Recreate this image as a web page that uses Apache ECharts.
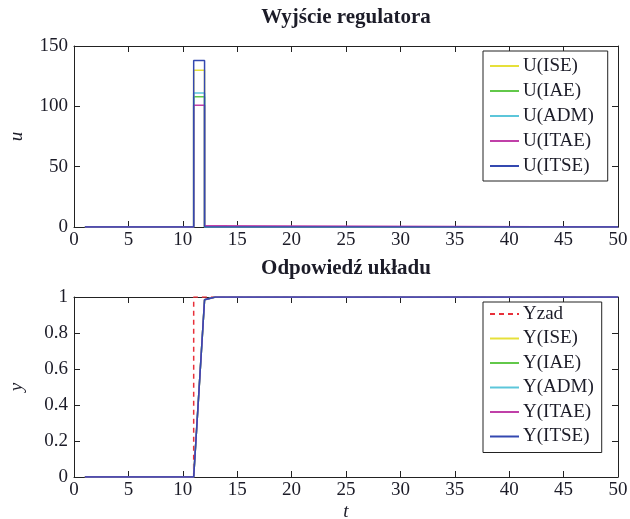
<!DOCTYPE html>
<html><head><meta charset="utf-8">
<script src="https://cdn.jsdelivr.net/npm/echarts@6/dist/echarts.min.js"></script>
<style>html,body{margin:0;padding:0;background:#fff}#c{width:630px;height:519px}</style>
</head><body><div id="c"></div>
<script>
// time instants where the signals change (sample time 1 s, t = 1..50)
const tU = [1, 11, 12, 13, 50];
const uISE = [0, 130, 0, 0, 0];
const uIAE = [0, 108, 0, 0, 0];
const uADM = [0, 111, 0, 0, 0];
const uITAE = [0, 101, 1, 0, 0];
const uITSE = [0, 138, 0, 0, 0];

const tY = [1, 11, 12, 13, 50];
const yZad = [0, 1, 1, 1, 1];
const yISE = [0, 0, 0.985, 1, 1];
const yIAE = [0, 0, 0.985, 1, 1];
const yADM = [0, 0, 0.985, 1, 1];
const yITAE = [0, 0, 0.985, 1, 1];
const yITSE = [0, 0, 0.985, 1, 1];

const uNames = ['U(ISE)', 'U(IAE)', 'U(ADM)', 'U(ITAE)', 'U(ITSE)'];
const yNames = ['Yzad', 'Y(ISE)', 'Y(IAE)', 'Y(ADM)', 'Y(ITAE)', 'Y(ITSE)'];
const titles = ['Wyjście regulatora', 'Odpowiedź układu'];

const COLORS = { ISE: '#e6e03a', IAE: '#62c84a', ADM: '#5cc6da', ITAE: '#c040a8', ITSE: '#3448b0', ZAD: '#e8303a' };
const FONT = '"Liberation Serif", "DejaVu Serif", serif';
const TXT = '#1c1c28';
const AX = '#222';

const zip = (t, v) => t.map((x, i) => [x, v[i]]);

function xAx(grid, pos, labels, name) {
  return {
    type: 'value', gridIndex: grid, position: pos, min: 0, max: 50, interval: 5,
    axisLine: { show: true, onZero: false, lineStyle: { color: AX, width: 1 } },
    axisTick: { show: true, inside: true, length: 6, lineStyle: { color: AX } },
    axisLabel: { show: labels, margin: 4, color: TXT, fontFamily: FONT, fontSize: 19 },
    splitLine: { show: false },
    name: name || '', nameLocation: 'middle', nameGap: 25, nameMoveOverlap: false,
    nameTextStyle: { fontFamily: FONT, fontStyle: 'italic', fontSize: 19, color: TXT }
  };
}
function yAx(grid, pos, labels, min, max, interval, name) {
  return {
    type: 'value', gridIndex: grid, position: pos, min: min, max: max, interval: interval,
    axisLine: { show: true, onZero: false, lineStyle: { color: AX, width: 1 } },
    axisTick: { show: true, inside: true, length: 6, lineStyle: { color: AX } },
    axisLabel: { show: labels, margin: 6, color: TXT, fontFamily: FONT, fontSize: 19 },
    splitLine: { show: false },
    name: name || '', nameLocation: 'middle', nameGap: 48, nameRotate: 90, nameMoveOverlap: false,
    nameTextStyle: { fontFamily: FONT, fontStyle: 'italic', fontSize: 19, color: TXT }
  };
}
function ser(name, color, x, y, data, step, dashed) {
  return {
    type: 'line', name: name, xAxisIndex: x, yAxisIndex: y, data: data,
    step: step, symbol: 'none', animation: false,
    lineStyle: { color: color, width: 1.5, type: dashed ? [5, 4] : 'solid' },
    itemStyle: { color: color }
  };
}
function legend(names, top, gap, padding) {
  return {
    data: names, orient: 'vertical', left: 483, top: top, itemWidth: 29, itemHeight: 12, itemGap: gap,
    padding: padding, borderColor: AX, borderWidth: 1, backgroundColor: '#fff',
    itemStyle: { opacity: 0, color: 'transparent', borderWidth: 0 },
    textStyle: { fontFamily: FONT, fontSize: 19, color: TXT, lineHeight: 20, padding: [0, 0, 0, -1] }
  };
}

const chart = echarts.init(document.getElementById('c'), null, { renderer: 'canvas' });
chart.setOption({
  backgroundColor: '#fff',
  animation: false,
  title: [
    { text: titles[0], left: 346, top: 7, padding: 0, textAlign: 'center',
      textStyle: { fontFamily: FONT, fontWeight: 'bold', fontSize: 21, color: TXT } },
    { text: titles[1], left: 346, top: 258, padding: 0, textAlign: 'center',
      textStyle: { fontFamily: FONT, fontWeight: 'bold', fontSize: 21, color: TXT } }
  ],
  grid: [
    { left: 74, top: 46, width: 544, height: 181, containLabel: false, outerBoundsMode: 'none' },
    { left: 74, top: 297, width: 544, height: 180, containLabel: false, outerBoundsMode: 'none' }
  ],
  xAxis: [xAx(0, 'bottom', true), xAx(0, 'top', false), xAx(1, 'bottom', true, 't'), xAx(1, 'top', false)],
  yAxis: [yAx(0, 'left', true, 0, 150, 50, 'u'), yAx(0, 'right', false, 0, 150, 50),
          yAx(1, 'left', true, 0, 1, 0.2, 'y'), yAx(1, 'right', false, 0, 1, 0.2)],
  legend: [
    legend(uNames, 51, 5, [5, 14, 5, 6]),
    legend(yNames, 302, 4.5, [2, 8, 6, 6])
  ],
  series: [
    ser('U(ISE)', COLORS.ISE, 0, 0, zip(tU, uISE), 'end'),
    ser('U(IAE)', COLORS.IAE, 0, 0, zip(tU, uIAE), 'end'),
    ser('U(ADM)', COLORS.ADM, 0, 0, zip(tU, uADM), 'end'),
    ser('U(ITAE)', COLORS.ITAE, 0, 0, zip(tU, uITAE), 'end'),
    ser('U(ITSE)', COLORS.ITSE, 0, 0, zip(tU, uITSE), 'end'),
    ser('Yzad', COLORS.ZAD, 2, 2, zip(tY, yZad), 'end', true),
    ser('Y(ISE)', COLORS.ISE, 2, 2, zip(tY, yISE), false),
    ser('Y(IAE)', COLORS.IAE, 2, 2, zip(tY, yIAE), false),
    ser('Y(ADM)', COLORS.ADM, 2, 2, zip(tY, yADM), false),
    ser('Y(ITAE)', COLORS.ITAE, 2, 2, zip(tY, yITAE), false),
    ser('Y(ITSE)', COLORS.ITSE, 2, 2, zip(tY, yITSE), false)
  ]
});
</script>
</body></html>
